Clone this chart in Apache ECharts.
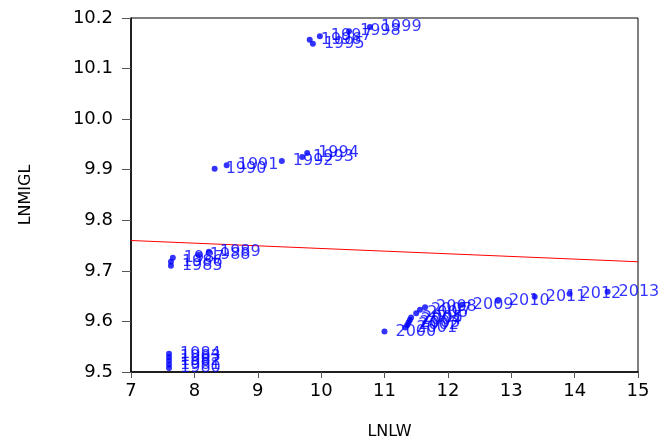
<!DOCTYPE html>
<html><head><meta charset="utf-8">
<script src="https://cdn.jsdelivr.net/npm/echarts@6/dist/echarts.min.js"></script>
<style>html,body{margin:0;padding:0;background:#fff}#c{width:659px;height:439px}</style>
</head><body><div id="c"></div>
<script>
const years = ['1980','1981','1982','1983','1984','1985','1986','1987','1988','1989',
  '1990','1991','1992','1993','1994','1995','1996','1997','1998','1999',
  '2000','2001','2002','2003','2004','2005','2006','2007','2008','2009','2010','2011','2012','2013'];
const lnlw = [7.60,7.60,7.60,7.60,7.60,7.63,7.63,7.66,8.07,8.23,
  8.32,8.51,9.38,9.70,9.78,9.87,9.82,9.98,10.44,10.77,
  11.00,11.33,11.36,11.38,11.40,11.42,11.50,11.56,11.64,12.22,12.79,13.37,13.92,14.52];
const lnmigl = [9.508,9.515,9.522,9.529,9.536,9.710,9.718,9.726,9.732,9.738,
  9.902,9.909,9.917,9.925,9.933,10.149,10.157,10.164,10.174,10.182,
  9.580,9.588,9.593,9.598,9.603,9.608,9.616,9.623,9.628,9.633,9.641,9.649,9.6545,9.6585];
const fitX = [7, 15];
const fitY = [9.760, 9.718];

const chart = echarts.init(document.getElementById('c'), null, {renderer:'canvas'});
const font = 'DejaVu Sans, Verdana, sans-serif';
chart.setOption({
  animation:false,
  grid:{left:131,right:21,top:18,bottom:67,outerBoundsMode:'none',containLabel:false,show:true,borderColor:'#000',borderWidth:1,backgroundColor:'transparent'},
  xAxis:{type:'value',min:7,max:15,interval:1,name:'LNLW',nameLocation:'middle',nameGap:52,
    nameTextStyle:{color:'#000',fontSize:16,fontFamily:font,padding:[0,0,0,10]},
    axisLine:{show:true,onZero:false,lineStyle:{color:'#000',width:1.5}},
    axisTick:{show:true,length:6,lineStyle:{color:'#555'}},
    axisLabel:{color:'#000',fontSize:18,fontFamily:font,margin:10},
    splitLine:{show:false}},
  yAxis:{type:'value',min:9.5,max:10.2,interval:0.1,name:'LNMIGL',nameLocation:'middle',nameGap:97,
    nameTextStyle:{color:'#000',fontSize:16,fontFamily:font},
    axisLine:{show:true,onZero:false,lineStyle:{color:'#000',width:1.5}},
    axisTick:{show:true,length:9,lineStyle:{color:'#555'}},
    axisLabel:{color:'#000',fontSize:18,fontFamily:font,margin:18,formatter:v=>v.toFixed(1)},
    splitLine:{show:false}},
  series:[
    {type:'line',data:fitX.map((x,i)=>[x,fitY[i]]),symbol:'none',lineStyle:{color:'#ff0000',width:1},silent:true,z:1},
    {type:'scatter',data:lnlw.map((x,i)=>[x,lnmigl[i],years[i]]),symbol:'circle',symbolSize:6,
      itemStyle:{color:'#0000ff'},
      label:{show:true,position:'right',distance:8,offset:[0,1],formatter:p=>p.data[2],color:'#0000ff',fontSize:16,fontFamily:font},
      labelLayout:{hideOverlap:false},z:3}
  ]
});
</script></body></html>
